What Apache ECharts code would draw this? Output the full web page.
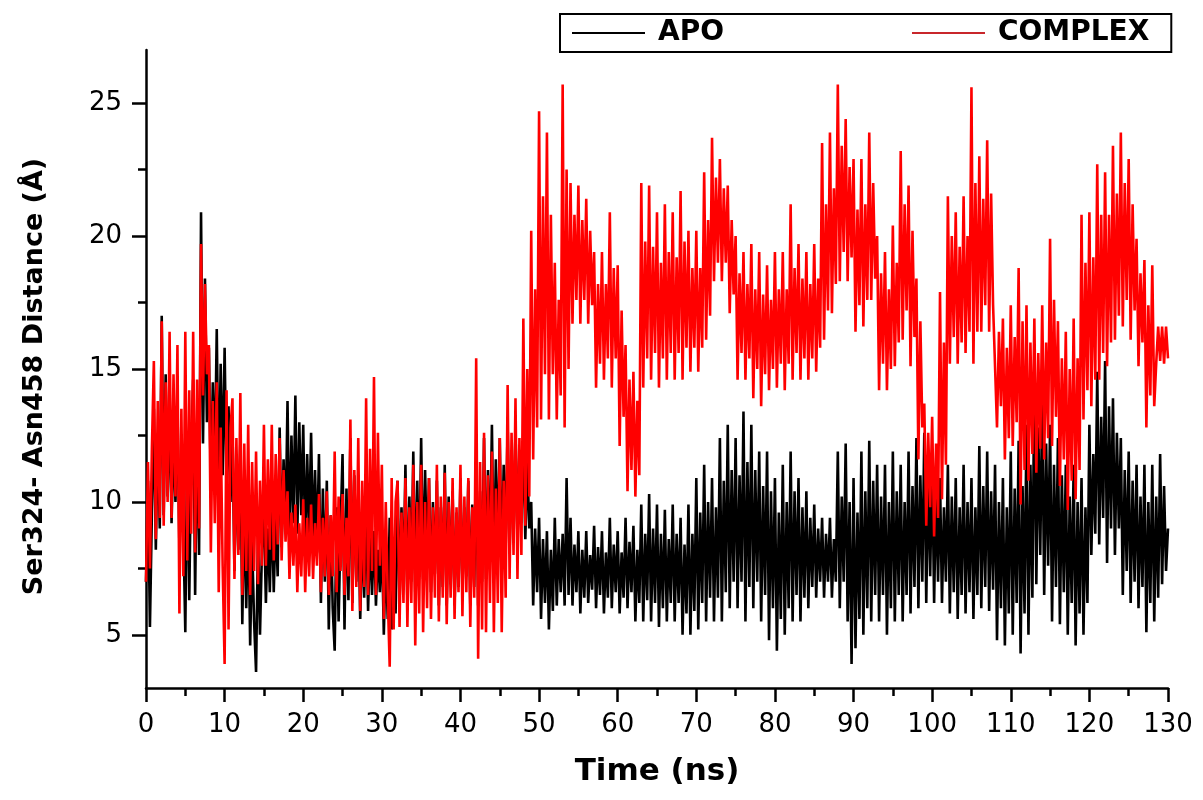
<!DOCTYPE html>
<html>
<head>
<meta charset="utf-8">
<script src="https://cdn.jsdelivr.net/npm/echarts@6/dist/echarts.min.js"></script>
<style>
html,body{margin:0;padding:0;background:#fff;}
#chart{width:1203px;height:800px;}
</style>
</head>
<body>
<div id="chart"></div>
<script>
// sampling step of both traces (ns)
const timeStep = 0.25;

// APO distance (Å), one value every 0.25 ns, 0..130 ns
const apo = [
7.0,10.8,5.3,9.6, 13.5,8.2,12.6,9.0, 17.0,9.5,14.8,10.2, 13.8,9.2,12.4,10.0, 13.6,8.3,11.5,9.0,
5.1,12.5,6.3,11.8, 14.6,6.5,13.0,8.0, 20.9,12.2,18.4,13.0, 15.8,10.4,14.5,11.2, 16.5,10.2,15.2,11.0,
15.8,10.5,13.6,10.0, 12.8,7.4,11.5,8.2, 12.3,5.4,10.2,6.0, 9.8,4.6,8.5,5.5, 3.6,8.8,5.0,8.2,
9.8,6.2,9.0,6.6, 10.0,6.6,9.4,7.2, 12.8,8.3,11.6,9.0, 13.8,8.4,12.5,9.2, 14.0,8.8,13.0,9.5,
12.9,8.2,11.8,8.8, 12.6,8.4,11.2,8.1, 11.8,6.2,10.5,7.0, 10.8,5.2,9.5,6.0, 4.4,9.8,5.5,9.0,
11.8,5.2,10.5,6.3, 12.4,6.2,11.0,7.0, 9.8,5.6,9.0,6.4, 9.9,5.9,8.8,6.5, 8.9,6.1,8.2,6.6,
8.8,5.0,8.0,5.6, 9.4,5.2,8.6,5.8, 10.8,6.1,9.8,6.8, 11.4,6.2,10.2,7.0, 11.9,6.6,10.8,7.2,
12.4,7.1,11.2,7.8, 10.9,6.6,10.0,7.3, 10.8,6.1,9.8,6.8, 11.4,6.1,10.2,6.9, 10.4,6.1,9.6,6.8,
10.9,6.6,9.8,7.2, 10.8,6.1,9.9,6.8, 11.4,6.1,10.4,7.0, 12.4,7.1,11.2,7.8, 12.9,7.1,11.6,8.0,
12.4,7.6,11.4,8.3, 12.9,8.1,11.8,8.8, 12.7,8.6,11.9,9.2, 12.4,8.6,11.5,9.0, 10.0,6.1,9.0,6.6,
9.4,5.6,8.6,6.2, 8.9,5.2,8.2,5.9, 9.4,6.1,8.6,6.6, 8.8,6.1,10.9,6.5, 9.4,6.1,8.4,6.6,
8.9,5.8,8.2,6.4, 8.9,6.2,8.0,6.7, 9.1,6.0,8.3,6.5, 8.9,5.8,8.1,6.4, 9.4,6.0,8.4,6.6,
8.9,5.8,8.1,6.4, 9.4,6.0,8.5,6.6, 9.1,5.5,8.2,6.2, 9.9,5.5,8.8,6.3, 10.3,5.5,9.0,6.2,
9.9,5.3,8.8,6.0, 9.7,5.5,8.6,6.2, 9.9,5.5,8.8,6.2, 9.4,5.0,8.4,5.8, 9.9,5.0,8.8,5.9,
10.9,5.2,9.6,6.2, 11.4,5.5,10.0,6.4, 10.9,5.5,9.8,6.4, 12.4,5.5,10.8,6.6, 12.9,6.0,11.2,7.0,
12.4,6.0,11.0,7.0, 13.4,5.5,11.5,6.8, 12.9,6.0,11.2,7.0, 11.9,5.5,10.6,6.5, 11.9,4.8,10.4,6.0,
10.9,4.4,9.6,5.6, 11.4,5.0,10.0,6.0, 11.9,5.5,10.4,6.5, 10.9,5.5,9.8,6.4, 10.4,6.0,9.4,6.8,
9.9,6.4,9.0,7.0, 9.4,6.4,8.8,7.0, 9.4,6.4,8.6,7.0, 11.9,6.0,10.2,7.0, 12.2,5.5,10.0,3.9,
10.9,4.5,9.6,5.6, 11.9,5.0,10.4,6.0, 12.3,5.5,10.8,6.5, 11.4,5.5,10.2,6.5, 11.4,5.0,10.0,6.0,
11.9,5.5,10.4,6.5, 11.4,5.5,10.0,6.5, 11.9,5.8,10.6,6.8, 12.4,6.0,11.0,7.0, 12.6,6.2,11.2,7.2,
11.7,6.2,10.6,7.0, 10.9,6.2,9.8,7.0, 11.4,5.8,10.2,6.6, 10.9,5.6,9.8,6.5, 11.4,5.8,10.0,6.6,
10.9,5.6,9.8,6.5, 12.1,6.0,10.6,6.8, 11.9,5.9,10.4,6.7, 11.4,4.8,10.0,6.0, 10.9,4.6,9.8,5.8,
11.9,5.0,10.5,6.2, 12.3,4.3,10.6,5.8, 12.9,5.0,11.4,6.4, 14.9,6.9,12.8,8.0, 13.9,6.5,12.2,7.6,
12.9,5.5,11.4,6.8, 12.4,5.4,11.0,6.6, 11.4,5.0,10.2,6.2, 11.4,4.6,10.0,5.8, 10.9,5.0,9.8,6.2,
12.9,8.0,11.8,8.8, 14.9,8.4,13.2,9.4, 15.3,7.7,13.6,9.0, 13.9,8.0,12.6,9.0, 12.4,6.5,11.2,7.4,
11.9,6.2,10.8,7.0, 11.4,6.0,10.2,6.8, 11.4,5.1,10.0,6.2, 11.4,5.5,10.2,6.4, 11.8,6.9,10.6,7.4,
9.0
];

// COMPLEX distance (Å), one value every 0.25 ns, 0..130 ns
const complex = [
7.0,11.5,7.5,12.0, 15.3,8.6,13.8,9.4, 16.8,9.1,14.5,10.0, 16.4,9.4,14.8,10.2, 15.9,5.8,13.5,7.2,
16.4,7.8,14.2,8.8, 16.4,8.1,14.6,9.0, 19.7,14.0,18.2,14.8, 15.9,8.1,13.8,9.2, 14.5,6.6,12.8,7.6,
3.9,14.2,5.2,12.8, 13.9,7.1,12.4,8.0, 14.1,6.5,12.2,7.4, 12.9,6.5,11.5,7.4, 11.9,6.9,10.8,7.6,
12.9,7.6,11.6,8.2, 12.9,7.8,11.8,8.4, 12.4,7.8,11.2,8.5, 10.4,7.1,9.6,7.6, 9.9,6.6,9.2,7.2,
10.1,6.6,9.4,7.2, 9.9,7.1,9.2,7.6, 10.3,6.6,9.4,7.2, 10.4,6.5,9.5,7.2, 11.9,6.6,10.2,7.4,
10.3,6.5,9.4,7.2, 13.1,5.9,11.2,6.8, 12.4,5.9,10.8,6.8, 13.9,6.5,12.0,7.4, 14.7,6.5,12.6,7.6,
11.4,5.6,10.0,6.5, 3.8,10.9,5.2,10.0, 10.8,5.3,9.6,6.2, 10.9,5.3,9.8,6.2, 11.4,4.6,10.0,5.8,
11.4,5.1,10.0,6.0, 10.9,5.6,9.8,6.4, 11.4,5.5,10.2,6.4, 11.1,5.4,10.0,6.4, 10.9,5.6,9.8,6.6,
11.4,5.7,10.2,6.6, 10.9,5.3,9.8,6.4, 15.4,4.1,11.5,5.2, 12.6,5.1,11.0,6.2, 11.9,5.1,10.5,6.2,
12.4,5.1,10.8,6.4, 14.4,7.1,12.6,8.0, 13.9,7.1,12.4,8.0, 16.9,9.1,15.0,10.2, 20.2,11.6,18.0,12.8,
24.7,13.1,21.5,14.8, 23.9,13.1,20.8,14.8, 19.0,13.1,17.6,14.0, 25.7,12.8,22.5,15.0, 22.0,16.7,20.8,17.6,
21.9,16.7,20.6,17.6, 21.4,16.7,20.2,17.4, 19.4,14.3,18.2,15.2, 19.4,14.6,18.2,15.4, 20.9,14.3,18.8,15.4,
18.9,12.1,17.2,13.2, 15.9,10.4,14.6,11.2, 14.9,10.2,13.8,11.0, 22.0,14.3,19.8,15.4, 21.9,14.6,19.6,15.6,
20.9,14.3,19.0,15.4, 21.2,14.6,19.4,15.6, 20.9,14.6,19.2,15.6, 21.7,14.6,19.8,15.8, 20.2,14.9,18.8,15.8,
20.2,14.9,18.8,15.8, 22.4,16.1,20.6,17.0, 23.7,18.3,22.2,19.0, 22.9,18.3,21.8,19.0, 21.9,17.1,20.6,17.8,
20.0,14.6,18.6,15.6, 19.4,14.6,18.2,15.4, 19.7,13.9,18.0,15.0, 19.4,13.6,17.8,14.8, 18.9,14.2,17.6,15.0,
19.4,14.3,18.0,15.2, 19.4,14.2,18.0,15.2, 21.2,14.6,18.8,15.6, 19.7,14.6,18.4,15.4, 19.4,14.6,18.2,15.4,
19.7,14.9,18.4,15.8, 23.5,16.1,21.2,17.2, 23.9,17.1,21.8,18.2, 25.7,18.3,23.4,19.4, 24.4,18.3,22.6,19.2,
22.9,16.4,21.0,17.4, 22.9,16.6,21.2,17.6, 23.9,17.6,22.0,18.4, 20.0,14.2,18.6,15.2, 19.4,14.2,18.0,15.0,
20.4,15.1,19.0,16.0, 23.2,16.1,21.2,17.2, 21.9,15.1,20.2,16.2, 18.4,11.6,16.8,12.8, 13.7,9.1,12.6,9.8,
13.2,8.7,12.2,9.4, 17.9,10.1,16.0,11.4, 21.5,15.2,20.0,16.2, 20.9,15.2,19.6,16.0, 21.5,15.6,20.0,16.4,
25.6,15.2,22.0,16.4, 23.0,16.4,21.4,17.4, 23.6,16.4,21.6,17.4, 17.4,12.8,16.4,13.6, 16.9,11.6,15.8,12.4,
17.4,12.1,16.2,13.0, 18.8,9.9,16.8,11.2, 17.4,10.8,16.0,11.8, 16.9,11.1,15.6,12.0, 17.4,11.6,16.0,12.4,
19.9,12.1,17.6,13.2, 16.8,10.6,15.4,11.6, 16.4,9.7,15.0,10.8, 16.9,10.1,15.4,11.2, 20.8,13.1,19.0,14.2,
20.9,13.6,19.2,14.6, 22.7,14.6,20.8,15.6, 22.4,15.1,20.8,16.0, 23.4,16.1,21.6,17.0, 23.9,16.6,22.0,17.6,
22.9,16.1,21.2,17.2, 19.9,15.1,18.6,16.0, 19.1,12.8,17.4,14.0, 18.9,13.6,15.2,16.6, 15.3,16.6,15.2,16.6,
15.4
];

// axis ticks
const xTicks = [0,10,20,30,40,50,60,70,80,90,100,110,120,130];
const yMajorTicks = [5,10,15,20,25];
const yMinorTicks = [7.5,12.5,17.5,22.5];

const seriesNames = ['APO','COMPLEX'];
const seriesColors = ['#000000','#ff0000'];
const legendLineColors = ['#000000','#c8262b'];

const toPairs = arr => arr.map((v,i) => [i*timeStep, v]);

const chart = echarts.init(document.getElementById('chart'), null, {renderer:'canvas'});
const axisLineStyle = {color:'#000', width:2.5};
chart.setOption({
  animation:false,
  backgroundColor:'#fff',
  grid:{left:146, right:35, top:50, bottom:112},
  legend:{
    left:560, top:14,
    padding:[5,22,5,12],
    itemGap:188,
    itemWidth:73, itemHeight:2,
    icon:'rect',
    borderColor:'#000', borderWidth:2,
    textStyle:{fontFamily:'DejaVu Sans', fontWeight:'bold', fontSize:28, color:'#000', padding:[0,0,0,8]},
    data:seriesNames.map((n,i)=>({name:n, itemStyle:{color:legendLineColors[i]}}))
  },
  xAxis:{
    type:'value', min:xTicks[0], max:xTicks[xTicks.length-1], interval:10,
    name:'Time (ns)', nameLocation:'middle', nameGap:68,
    nameTextStyle:{fontFamily:'DejaVu Sans', fontWeight:'bold', fontSize:31, color:'#000'},
    axisLine:{show:true, lineStyle:axisLineStyle},
    axisTick:{show:true, length:14, lineStyle:axisLineStyle},
    minorTick:{show:true, splitNumber:2, length:8, lineStyle:axisLineStyle},
    axisLabel:{fontFamily:'DejaVu Sans', fontSize:26, color:'#000', margin:24},
    splitLine:{show:false}, minorSplitLine:{show:false}
  },
  yAxis:[{
    type:'value', min:3, max:27,
    name:'Ser324- Asn458 Distance (Å)', nameLocation:'middle', nameGap:98,
    nameTextStyle:{fontFamily:'DejaVu Sans', fontWeight:'bold', fontSize:27, color:'#000', padding:[0,15,0,0]},
    axisLine:{show:true, lineStyle:axisLineStyle},
    axisTick:{show:true, length:14, lineStyle:axisLineStyle, customValues:yMajorTicks},
    axisLabel:{fontFamily:'DejaVu Sans', fontSize:26, color:'#000', margin:24, customValues:yMajorTicks},
    splitLine:{show:false}
  },{
    type:'value', min:3, max:27, position:'left',
    axisLine:{show:false},
    axisTick:{show:true, length:8, lineStyle:axisLineStyle, customValues:yMinorTicks},
    axisLabel:{show:false},
    splitLine:{show:false}
  }],
  series:[
    {name:seriesNames[0], type:'line', data:toPairs(apo), showSymbol:false, symbol:'none',
     lineStyle:{color:seriesColors[0], width:2.6, join:'bevel'}, itemStyle:{color:seriesColors[0]}, z:2},
    {name:seriesNames[1], type:'line', data:toPairs(complex), showSymbol:false, symbol:'none',
     lineStyle:{color:seriesColors[1], width:2.6, join:'bevel'}, itemStyle:{color:seriesColors[1]}, z:3}
  ]
});
</script>
</body>
</html>
